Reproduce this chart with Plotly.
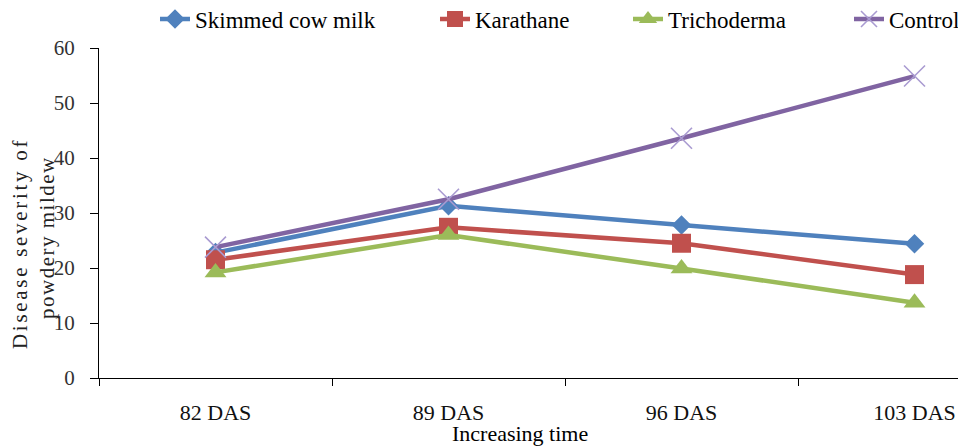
import plotly.graph_objects as go

categories = ["82 DAS", "89 DAS", "96 DAS", "103 DAS"]
skimmed = [22.8, 31.3, 27.8, 24.4]
karathane = [21.5, 27.4, 24.5, 18.8]
trichoderma = [19.2, 26.0, 19.9, 13.7]
control = [23.8, 32.5, 43.6, 54.9]

FONT = "Liberation Serif, Times New Roman, serif"

# page body has an 8px margin: figure is drawn 8px right/down of the window corner
W, H = 958, 440
ML, MT, MB = 91, 40, 70
PW = W - ML
PH = H - MT - MB


def px_x(screen_x):
    return (screen_x - 8 - ML) / PW


fig = go.Figure()
fig.add_trace(go.Scatter(x=categories, y=skimmed, name="Skimmed cow milk", mode="lines+markers",
                         line=dict(color="#4F81BD", width=4.5),
                         marker=dict(symbol="diamond", size=15, color="#4F81BD"), legend="legend"))
fig.add_trace(go.Scatter(x=categories, y=karathane, name="Karathane", mode="lines+markers",
                         line=dict(color="#C0504D", width=4.5),
                         marker=dict(symbol="square", size=19, color="#C0504D"), legend="legend2"))
fig.add_trace(go.Scatter(x=categories, y=trichoderma, name="Trichoderma", mode="lines+markers",
                         line=dict(color="#9BBB59", width=4.5),
                         marker=dict(symbol="triangle-up", size=19, color="#9BBB59"), legend="legend3"))
fig.add_trace(go.Scatter(x=categories, y=control, name="Control", mode="lines+markers",
                         line=dict(color="#8064A2", width=4.5),
                         marker=dict(symbol="x-thin", size=21, color="#A99BD1",
                                     line=dict(color="#A99BD1", width=1.6)), legend="legend4"))

leg_y = 1 + 29 / PH
def leg(x):
    return dict(orientation="h", x=x, xanchor="left", y=leg_y, yanchor="middle",
                font=dict(family=FONT, size=23, color="#000"), bgcolor="rgba(0,0,0,0)")

fig.update_layout(
    width=W, height=H,
    margin=dict(l=ML, r=0, t=MT, b=MB, autoexpand=False),
    paper_bgcolor="white", plot_bgcolor="white",
    font=dict(family=FONT, size=22, color="#000"),
    showlegend=True,
    legend=leg(px_x(155)),
    legend2=leg(px_x(435)),
    legend3=leg(px_x(628)),
    legend4=leg(px_x(849)),
    xaxis=dict(type="category", range=[-0.5, 3.221], showline=True, linecolor="#000", linewidth=1,
               ticks="outside", tickson="boundaries", ticklen=7, tickcolor="#000",
               ticklabelstandoff=15, showgrid=False, zeroline=False, automargin=False,
               tickfont=dict(family=FONT, size=22, color="#111")),
    yaxis=dict(range=[0, 60], dtick=10, showline=True, linecolor="#000", linewidth=1,
               ticks="outside", ticklen=8, tickcolor="#000", ticklabelstandoff=11, automargin=False,
               showgrid=False, zeroline=False, tickfont=dict(family=FONT, size=21, color="#333")),
    annotations=[
        dict(text='<span style="letter-spacing:2.7px">Disease severity of</span>', textangle=-90,
             xref="paper", yref="paper", x=0, y=(370 - 236) / PH, xshift=12 - ML,
             xanchor="center", yanchor="middle", showarrow=False,
             font=dict(family=FONT, size=21, color="#222")),
        dict(text='<span style="letter-spacing:1.5px">powdery mildew</span>', textangle=-90,
             xref="paper", yref="paper", x=0, y=(370 - 230) / PH, xshift=39 - ML,
             xanchor="center", yanchor="middle", showarrow=False,
             font=dict(family=FONT, size=21, color="#222")),
        dict(text="Increasing time", xref="paper", yref="paper", x=px_x(520), y=0, yshift=-55,
             xanchor="center", yanchor="middle", showarrow=False,
             font=dict(family=FONT, size=22, color="#000")),
    ],
)
fig.write_html("out.html")
